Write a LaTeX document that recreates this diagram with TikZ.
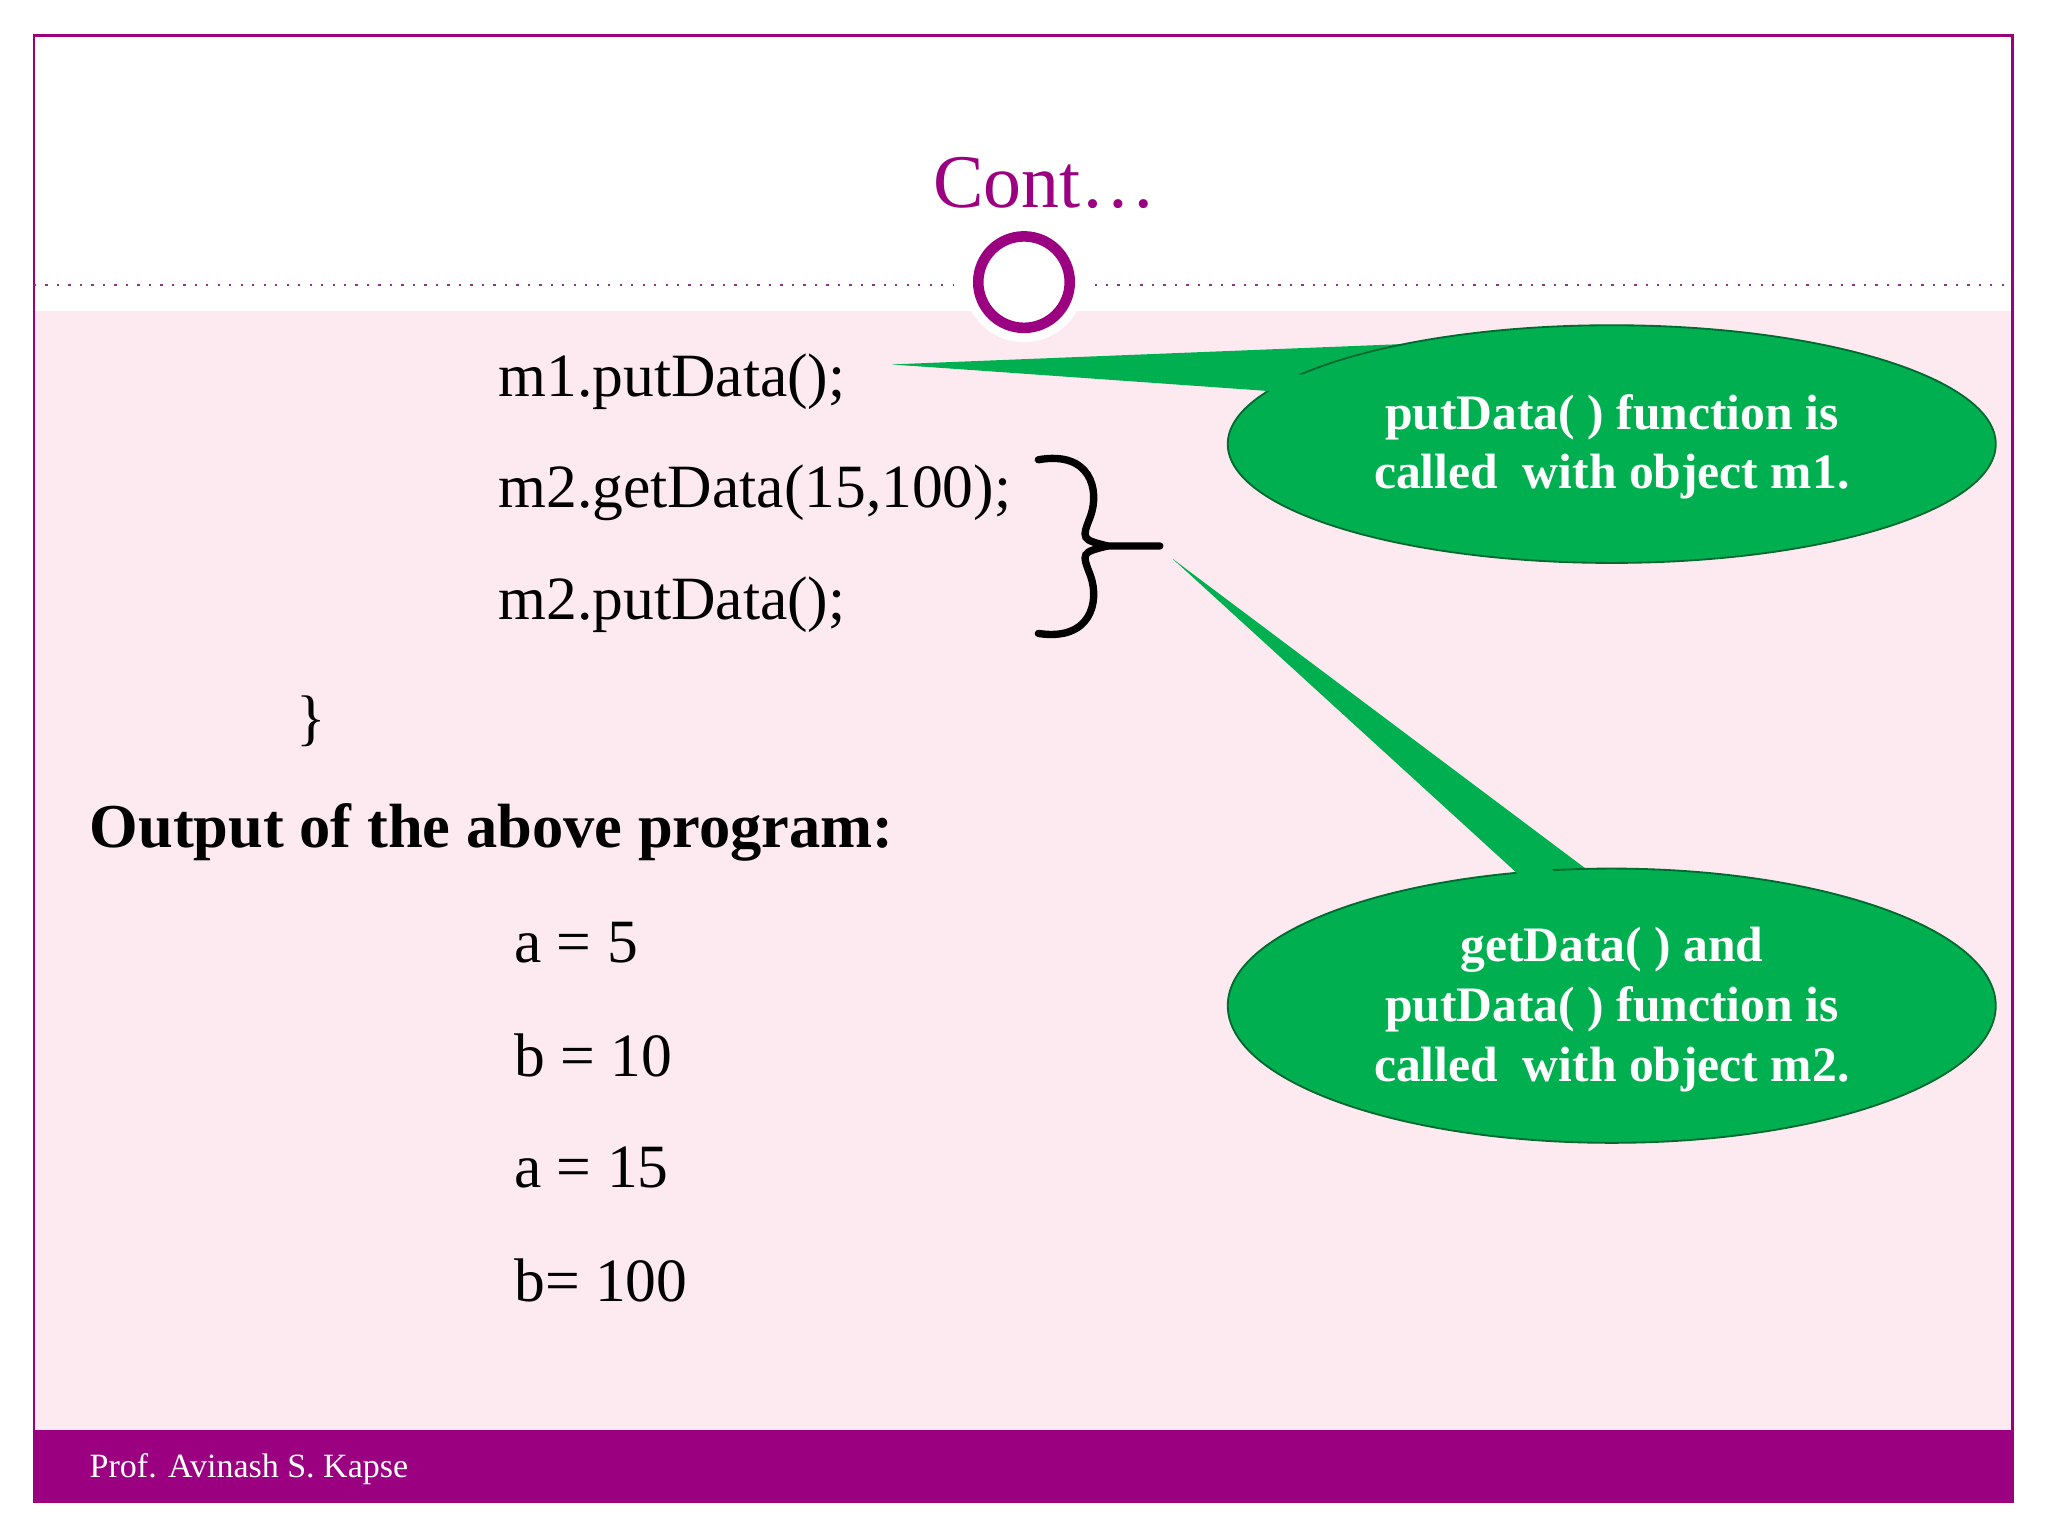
\documentclass[tikz,border=0pt]{standalone}
\usepackage{fontspec}
\setmainfont{Liberation Serif}
\definecolor{pur}{HTML}{9B0080}
\definecolor{pinkbg}{HTML}{FDEAF1}
\definecolor{callg}{HTML}{00B050}
\tikzset{code/.style={anchor=west,font=\fontsize{13.4}{15}\selectfont,inner sep=0},
  callout/.style={fill=callg,draw=callg!60!black,line width=0.4pt},
  ctext/.style={text=white,font=\fontsize{10.8}{13}\selectfont\bfseries,align=center}}
\begin{document}
\begin{tikzpicture}[x=0.01cm,y=-0.01cm]
\useasboundingbox (0,0) rectangle (1568,1176);
\fill[white] (0,0) rectangle (1568,1176);
\fill[pinkbg] (26,238) rectangle (1541,1095);
\draw[pur,line width=0.6pt] (26,27) rectangle (1541,1150);
\fill[pur] (26,1095) rectangle (1541,1150);
\node[text=white,anchor=west,font=\fontsize{7.4}{9}\selectfont,inner sep=0] (foot) at (68,1125) {Prof. Avinash S. Kapse};
\node[text=pur,font=\fontsize{16.5}{19}\selectfont,inner sep=0] (title) at (800,140) {Cont\ldots};
\draw[pur!60!gray,dotted,line width=0.5pt] (26,218) -- (730,218);
\draw[pur!60!gray,dotted,line width=0.5pt] (838,218) -- (1541,218);
\fill[white] (784,216) circle (46);
\node[circle,draw=pur,line width=2.3pt,minimum size=0.7cm,fill=white] (circ) at (784,216) {};
\node[code] (l1) at (381,292) {m1.putData();};
\node[code] (l2) at (381,377) {m2.getData(15,100);};
\node[code] (l3) at (381,463) {m2.putData();};
\node[code] (cb) at (226,552) {\}};
\node[code,font=\fontsize{13.6}{15}\selectfont\bfseries] (out) at (68,637) {Output of the above program:};
\node[code] (o1) at (393,722) {a = 5};
\node[code] (o2) at (393,808) {b = 10};
\node[code] (o3) at (393,894) {a = 15};
\node[code] (o4) at (393,980) {b= 100};
\coordinate (btip) at (888,418);
\draw[line width=1.6pt,line cap=round] (795,352) .. controls (835,345) and (842,375) .. (835,395) .. controls (828,413) .. (848,418) -- (btip);
\draw[line width=1.6pt,line cap=round] (795,485) .. controls (835,491) and (842,461) .. (835,441) .. controls (828,423) .. (848,418);
\coordinate (p1) at (683,279);
\coordinate (p2) at (898,428);
\fill[callg] (p1) -- (975,297) -- (1110,262) -- cycle;
\draw[callout] (1234,340) ellipse (294 and 91);
\fill[callg] (1130,290) -- (p1) -- (980,300) -- cycle;
\node[ctext] (e1) at (1234,342) {putData( ) function is\\called\ \ with object m1.};
\fill[callg] (p2) -- (1180,672) -- (1218,668) -- cycle;
\draw[callout] (1234,770) ellipse (294 and 105);
\fill[callg] (p2) -- (1185,690) -- (1218,690) -- cycle;
\node[ctext] (e2) at (1234,773) {getData( ) and\\putData( ) function is\\called\ \ with object m2.};
\end{tikzpicture}
\end{document}
